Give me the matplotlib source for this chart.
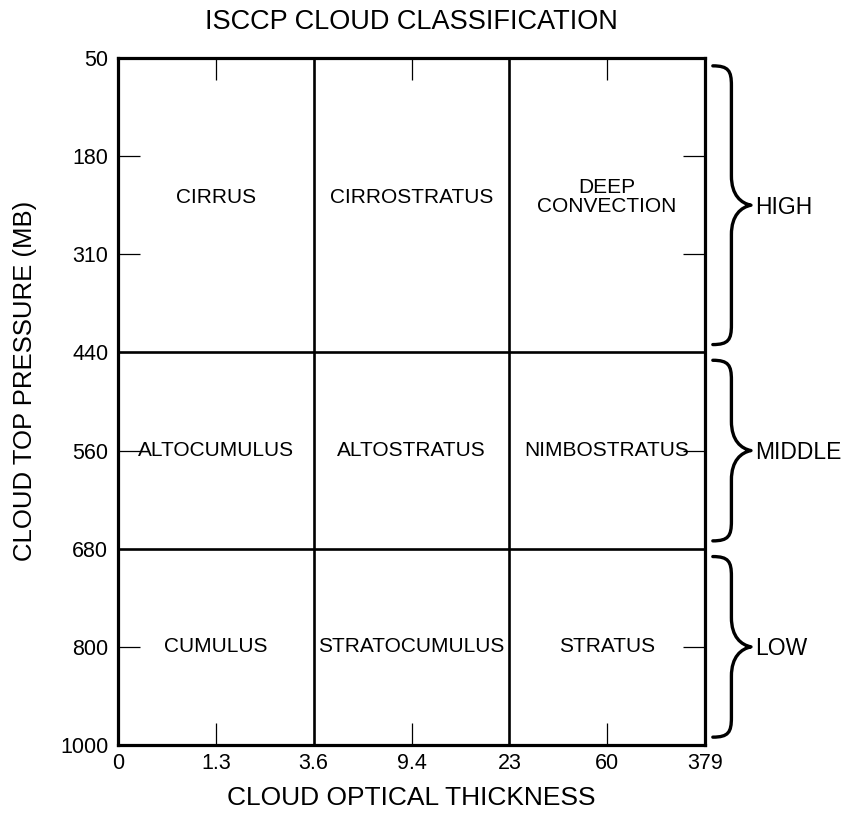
import numpy as np
import matplotlib
matplotlib.use('Agg')
import matplotlib.pyplot as plt
from matplotlib.path import Path
from matplotlib.patches import PathPatch

plt.rcParams['font.family'] = ['Liberation Sans', 'DejaVu Sans']

# optical thickness and cloud top pressure class edges, as printed on the axes
tau_labels = ['0', '1.3', '3.6', '9.4', '23', '60', '379']
pc_labels = ['50', '180', '310', '440', '560', '680', '800', '1000']

# the values where the class boxes are split
tau_bounds = ['0', '3.6', '23', '379']
pc_bounds = ['50', '440', '680', '1000']

cloud_types = [
    ['CIRRUS', 'CIRROSTRATUS', 'DEEP\nCONVECTION'],
    ['ALTOCUMULUS', 'ALTOSTRATUS', 'NIMBOSTRATUS'],
    ['CUMULUS', 'STRATOCUMULUS', 'STRATUS'],
]
levels = ['HIGH', 'MIDDLE', 'LOW']


def brace(ax, y0, y1, x0=6.08, x1=6.27, x2=6.47):
    # curly brace on the right of the box, tip pointing right
    ym = (y0 + y1) / 2.0
    verts = [
        (x0, y0),
        (x1 - 0.03, y0), (x1, y0 + 0.05), (x1, y0 + 0.2),
        (x1, ym - 0.3),
        (x1, ym - 0.1), (x2 - 0.1, ym - 0.02), (x2, ym),
        (x2 - 0.1, ym + 0.02), (x1, ym + 0.1), (x1, ym + 0.3),
        (x1, y1 - 0.2),
        (x1, y1 - 0.05), (x1 - 0.03, y1), (x0, y1),
    ]
    codes = [Path.MOVETO,
             Path.CURVE4, Path.CURVE4, Path.CURVE4,
             Path.LINETO,
             Path.CURVE4, Path.CURVE4, Path.CURVE4,
             Path.CURVE4, Path.CURVE4, Path.CURVE4,
             Path.LINETO,
             Path.CURVE4, Path.CURVE4, Path.CURVE4]
    p = PathPatch(Path(verts, codes), fill=False, lw=2.4, color='black',
                  capstyle='round', joinstyle='round', clip_on=False,
                  transform=ax.transData)
    ax.add_patch(p)
    return x2


fig = plt.figure(figsize=(8.49, 8.23), dpi=100)
ax = fig.add_axes([118 / 849, 78 / 823, 587 / 849, 687 / 823])

xb = [tau_labels.index(v) for v in tau_bounds]
yb = [pc_labels.index(v) for v in pc_labels if v in pc_bounds]

ax.set_xlim(0, len(tau_labels) - 1)
ax.set_ylim(len(pc_labels) - 1, 0)

ax.set_xticks(range(len(tau_labels)))
ax.set_xticklabels(tau_labels)
ax.set_yticks(range(len(pc_labels)))
ax.set_yticklabels(pc_labels)
ax.xaxis.remove_overlapping_locs = False
ax.yaxis.remove_overlapping_locs = False
ax.set_xticks([i for i in range(len(tau_labels)) if i not in xb], minor=True)
ax.set_yticks([i for i in range(len(pc_labels)) if i not in yb], minor=True)

ax.tick_params(which='major', length=0, labelsize=15.5, pad=6)
ax.tick_params(axis='y', which='major', pad=7)
ax.tick_params(which='minor', direction='in', length=16, width=0.9,
               top=True, right=True, color='black')

for s in ax.spines.values():
    s.set_linewidth(2.3)

# class boundaries
for x in xb[1:-1]:
    ax.axvline(x, color='black', lw=1.9)
for y in yb[1:-1]:
    ax.axhline(y, color='black', lw=1.9)

# names of the cloud types in each box
label_y = [1.42, 4.0, 6.0]
for r, row in enumerate(cloud_types):
    for c, name in enumerate(row):
        cx = (xb[c] + xb[c + 1]) / 2.0
        ax.text(cx, label_y[r], name, ha='center', va='center', fontsize=15,
                linespacing=1.0)

# high / middle / low braces
for r, lev in enumerate(levels):
    tip = brace(ax, yb[r] + 0.08, yb[r + 1] - 0.08)
    ax.text(tip + 0.04, (yb[r] + yb[r + 1]) / 2.0 + 0.02, lev, ha='left',
            va='center', fontsize=16.5, clip_on=False)

ax.set_xlabel('CLOUD OPTICAL THICKNESS', fontsize=19)
ax.set_ylabel('CLOUD TOP PRESSURE (MB)', fontsize=18.5)
ax.xaxis.label.set_va('center')
ax.yaxis.label.set_va('center')
ax.xaxis.set_label_coords(0.5, -0.077)
ax.yaxis.set_label_coords(-0.158, 0.53)

fig.text(411.5 / 849, 1 - 22 / 823, 'ISCCP CLOUD CLASSIFICATION',
         ha='center', va='center', fontsize=19.5)

fig.savefig('out.png', dpi=100)
